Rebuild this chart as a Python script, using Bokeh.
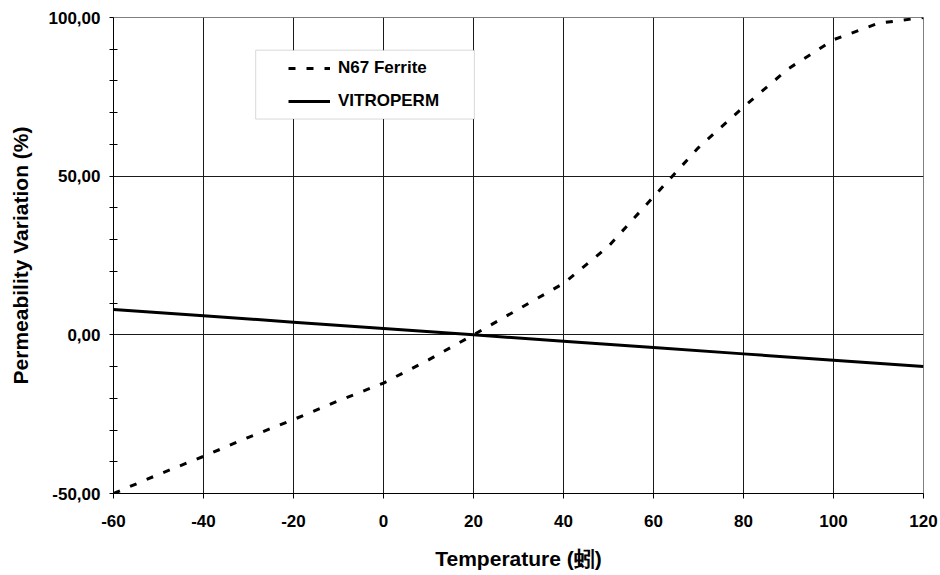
from bokeh.plotting import figure
from bokeh.models import (FixedTicker, Legend, LegendItem, BoxAnnotation)
from bokeh.embed import file_html
from bokeh.resources import INLINE

# ---- data ----
temps = [-60, -50, -40, -30, -20, -10, 0, 10, 20, 30, 40, 50, 60, 70, 80, 90, 100, 110, 120]
n67_ferrite = [-50.0, -44.0, -38.3, -32.3, -26.7, -20.8, -15.2, -7.9, 0.0, 8.1, 16.2, 27.9,
               43.5, 59.0, 71.8, 83.9, 93.0, 98.2, 100.0]
vitro_temps = [-60, -40, -20, 0, 20, 40, 60, 80, 100, 120]
vitroperm = [8.0, 6.0, 4.0, 2.0, 0.0, -2.0, -4.0, -6.0, -8.0, -10.0]

x_ticks = [-60, -40, -20, 0, 20, 40, 60, 80, 100, 120]
x_labels = {t: str(t) for t in x_ticks}
y_ticks = [-50, 0, 50, 100]
y_minor = [-40, -30, -20, -10, 10, 20, 30, 40, 60, 70, 80, 90]
y_labels = {-50: "-50,00", 0: "0,00", 50: "50,00", 100: "100,00"}

series_names = ["N67 Ferrite", "VITROPERM"]
x_title = "Temperature (蚓)"
y_title = "Permeability Variation (%)"

FONT = "Liberation Sans"

p = figure(width=940, height=575, x_range=(-60, 120), y_range=(-50, 100),
           output_backend="svg", toolbar_location=None,
           min_border_left=113, min_border_right=17, min_border_top=17, min_border_bottom=82)

p.background_fill_color = "white"
p.border_fill_color = "white"
p.outline_line_color = "#808080"
p.outline_line_width = 1

# grid
p.xgrid.ticker = FixedTicker(ticks=x_ticks)
p.ygrid.ticker = FixedTicker(ticks=y_ticks)
for g in (p.xgrid[0], p.ygrid[0]):
    g.grid_line_color = "#1a1a1a"
    g.grid_line_width = 1

# axes
xa = p.xaxis[0]
ya = p.yaxis[0]
xa.ticker = FixedTicker(ticks=x_ticks)
xa.major_label_overrides = x_labels
ya.ticker = FixedTicker(ticks=y_ticks, minor_ticks=y_minor)
ya.major_label_overrides = y_labels

for ax in (xa, ya):
    ax.axis_line_color = "black"
    ax.axis_line_width = 1
    ax.major_tick_line_color = "black"
    ax.major_tick_in = 0
    ax.major_label_text_font = FONT
    ax.major_label_text_font_style = "bold"
    ax.major_label_text_font_size = "17px"
    ax.major_label_text_color = "black"
    ax.axis_label_text_font = FONT
    ax.axis_label_text_font_style = "bold"
    ax.axis_label_text_font_size = "21px"
    ax.axis_label_text_color = "black"

xa.major_tick_out = 5
xa.minor_tick_line_color = None
xa.major_label_standoff = 16
xa.axis_label = x_title
xa.axis_label_standoff = 17

ya.major_tick_out = 4
ya.minor_tick_in = 4
ya.minor_tick_out = 4
ya.minor_tick_line_color = "black"
ya.major_label_standoff = 9
ya.axis_label = y_title
ya.axis_label_standoff = 14

# series
r1 = p.line(temps, n67_ferrite, line_color="black", line_width=3, line_dash="7 11")
r2 = p.line(vitro_temps, vitroperm, line_color="black", line_width=3)

# legend frame
box = BoxAnnotation(left=-28.4, right=20.2, bottom=68.0, top=89.7,
                    fill_color="white", fill_alpha=1.0,
                    line_color="#808080", line_width=1, level="annotation")
p.add_layout(box)

legend = Legend(items=[LegendItem(label=series_names[0], renderers=[r1]),
                       LegendItem(label=series_names[1], renderers=[r2])],
                location=(175, 382), orientation="vertical",
                padding=0, margin=0, spacing=13,
                glyph_width=42, glyph_height=20, label_standoff=8,
                label_text_font=FONT, label_text_font_style="bold",
                label_text_font_size="17px", label_text_color="black",
                border_line_alpha=0, background_fill_alpha=0)
p.add_layout(legend)

open("out.html", "w").write(file_html(p, INLINE))
